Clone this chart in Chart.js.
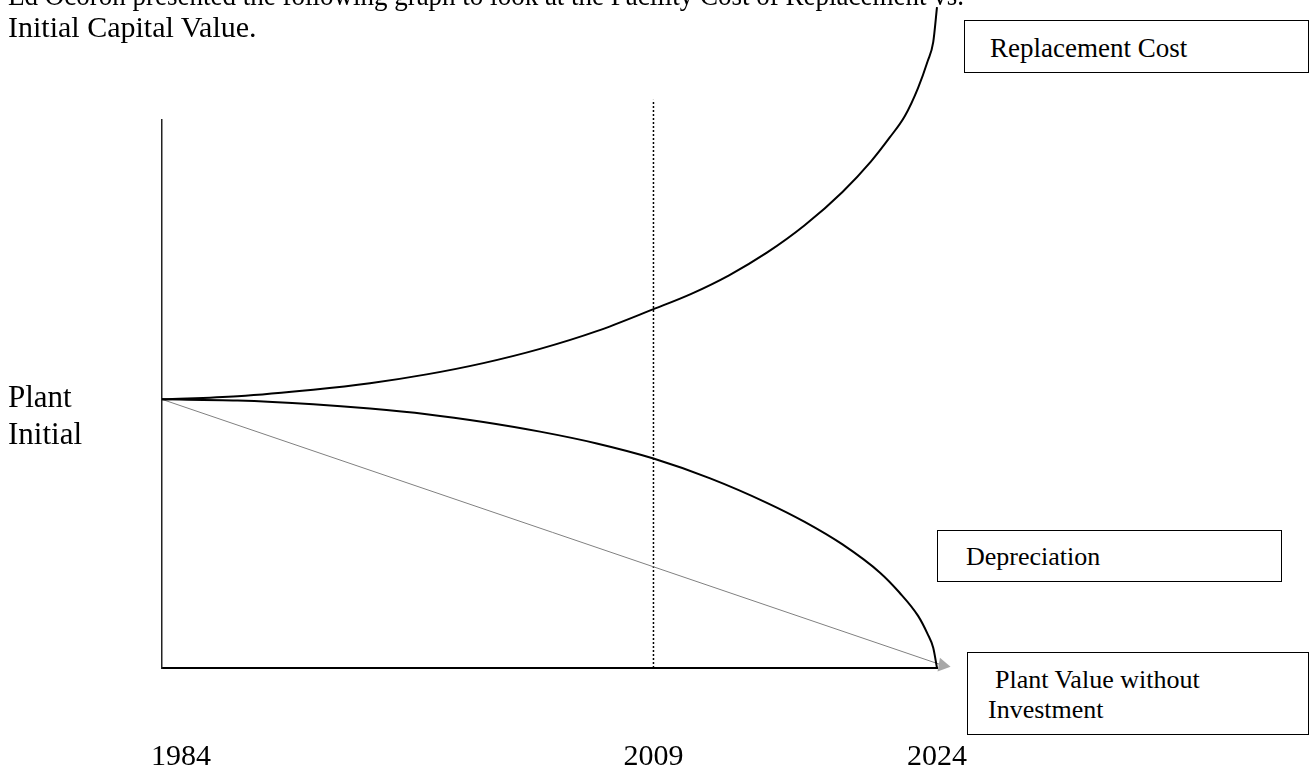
<!DOCTYPE html>
<html>
<head>
<meta charset="utf-8">
<title>Replacement Cost vs. Initial Capital Value</title>
<script src="https://cdn.jsdelivr.net/npm/chart.js@4.4.0/dist/chart.umd.min.js"></script>
<style>
  html, body { margin: 0; padding: 0; background: #fff; overflow: hidden; }
  .page { position: relative; width: 1316px; height: 778px; font-family: "Liberation Serif", "Times New Roman", serif; color: #000; }
  #chart { position: absolute; left: 0; top: 0; }
  .txt { position: absolute; white-space: nowrap; }
  .body { font-size: 30px; line-height: 32px; left: 8px; }
  .first { transform: scaleX(0.9); transform-origin: 0 0; }
  .side { font-size: 31px; line-height: 37px; left: 8px; top: 378px; }
  .box { position: absolute; border: 1.5px solid #000; background: #fff; box-sizing: border-box; }
  .boxtxt { font-size: 26px; line-height: 30px; }
  .year { font-size: 30px; line-height: 36px; top: 737px; transform: translateX(-50%); }
</style>
</head>
<body>
<div class="page">
  <canvas id="chart" width="1316" height="778"></canvas>

  <div class="txt body first" style="top:-21px">Ed Ocoron presented the following graph to look at the Facility Cost of Replacement vs.</div>
  <div class="txt body" style="top:11px">Initial Capital Value.</div>

  <div class="txt side">Plant<br>Initial</div>

  <div class="box" style="left:964px; top:20px; width:345px; height:53px"></div>
  <div class="txt boxtxt" style="left:990px; top:33px; font-size:27px">Replacement Cost</div>

  <div class="box" style="left:937px; top:530px; width:345px; height:52px"></div>
  <div class="txt boxtxt" style="left:966px; top:542px">Depreciation</div>

  <div class="box" style="left:967px; top:652px; width:342px; height:83px"></div>
  <div class="txt boxtxt" style="left:995px; top:665px">Plant Value without</div>
  <div class="txt boxtxt" style="left:988px; top:695px">Investment</div>

  <div id="years"></div>
</div>

<script>
// values (Plant Initial = 100)
const replacementYears = [1983, 1987, 1991, 1994, 1997, 2000, 2003, 2006, 2009, 2011, 2013, 2015, 2017, 2019, 2020.5, 2021.5, 2022.3, 2023, 2023.5, 2023.8, 2024];
const replacementCost = [100, 101.2, 103.6, 106.0, 109.3, 113.5, 118.8, 125.4, 133.6, 139.3, 146.2, 154.6, 164.8, 177.2, 188.5, 197.5, 205.5, 216, 225.8, 233, 246];

const depreciationYears = [1983, 1987, 1991, 1994, 1997, 2000, 2003, 2006, 2009, 2012, 2015, 2017, 2019, 2021, 2022, 2023, 2023.5, 2023.8, 2024];
const depreciationValue = [100, 99.6, 98.2, 96.6, 94.5, 91.6, 88.0, 83.6, 78.0, 70.6, 61.5, 54.4, 46.0, 35.4, 28.2, 19.4, 12.7, 7.5, 0];

const noInvestmentYears = [1983, 2024.3];
const noInvestmentValue = [100, 1];

const markerYear = 2009;
const markerRange = [0, 211.5];

const yearTicks = ['1984', '2009', '2024'];

function toPoints(xs, ys) {
  return xs.map((x, i) => ({ x, y: ys[i] }));
}

function buildYearLabels() {
  const holder = document.getElementById('years');
  yearTicks.forEach((label) => {
    const el = document.createElement('div');
    el.className = 'txt year';
    el.textContent = label;
    holder.appendChild(el);
  });
}

const yearLabelPlugin = {
  id: 'yearLabels',
  afterRender(chart) {
    const xScale = chart.scales.x;
    const els = document.querySelectorAll('#years .year');
    yearTicks.forEach((label, i) => {
      els[i].style.left = xScale.getPixelForValue(Number(label)) + 'px';
    });
  }
};

buildYearLabels();

const lastIndex = noInvestmentYears.length - 1;

new Chart(document.getElementById('chart'), {
  type: 'line',
  data: {
    datasets: [
      {
        label: 'Replacement Cost',
        data: toPoints(replacementYears, replacementCost),
        borderColor: '#000',
        borderWidth: 2,
        cubicInterpolationMode: 'monotone',
        pointRadius: 0,
        clip: false
      },
      {
        label: 'Depreciation',
        data: toPoints(depreciationYears, depreciationValue),
        borderColor: '#000',
        borderWidth: 2,
        cubicInterpolationMode: 'monotone',
        pointRadius: 0,
        clip: false
      },
      {
        label: 'Plant Value without Investment',
        data: toPoints(noInvestmentYears, noInvestmentValue),
        borderColor: '#808080',
        borderWidth: 1,
        pointStyle: 'triangle',
        pointRotation: 100,
        pointRadius: (ctx) => (ctx.dataIndex === lastIndex ? 8 : 0),
        pointBackgroundColor: '#a8a8a8',
        pointBorderWidth: 0,
        clip: false
      },
      {
        label: String(markerYear),
        data: markerRange.map((y) => ({ x: markerYear, y })),
        borderColor: '#000',
        borderWidth: 1.5,
        borderDash: [2, 2],
        pointRadius: 0,
        clip: false
      }
    ]
  },
  options: {
    responsive: false,
    animation: false,
    events: [],
    layout: { padding: { left: 162, top: 120, right: 379, bottom: 110 } },
    plugins: {
      legend: { display: false },
      tooltip: { enabled: false }
    },
    scales: {
      x: {
        type: 'linear',
        min: 1983,
        max: 2024,
        ticks: { display: false },
        grid: { display: false, drawTicks: false },
        border: { display: true, color: '#000', width: 2 }
      },
      y: {
        type: 'linear',
        min: 0,
        max: 204,
        ticks: { display: false },
        grid: { display: false, drawTicks: false },
        border: { display: true, color: '#222', width: 1.5 }
      }
    }
  },
  plugins: [yearLabelPlugin]
});
</script>
</body>
</html>
